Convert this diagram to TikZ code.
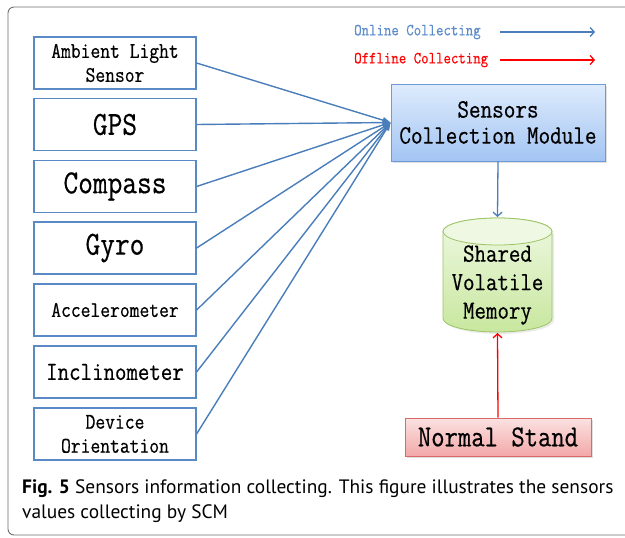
\documentclass[tikz,border=0pt]{standalone}
\usepackage{fontspec}
\setmainfont{PT Sans}
\newfontfamily\boxfont[FakeStretch=0.85,FakeBold=0.5]{Latin Modern Mono}
\usetikzlibrary{arrows.meta,shadows}

\definecolor{lineblue}{HTML}{4A7EBB}
\definecolor{boxblue}{HTML}{5A8AC6}
\definecolor{scmtop}{HTML}{DEEBFC}
\definecolor{scmbot}{HTML}{A3C5F3}
\definecolor{scmedge}{HTML}{6C9BD8}
\definecolor{cylfill}{HTML}{C8E79E}
\definecolor{cyltop}{HTML}{EEF8E2}
\definecolor{cyledge}{HTML}{9CC464}
\definecolor{standtop}{HTML}{FBE2E2}
\definecolor{standbot}{HTML}{F3A8A8}
\definecolor{standedge}{HTML}{D86B69}
\definecolor{legendblue}{HTML}{5B8BC9}
\definecolor{framegray}{HTML}{6E6E6E}

\begin{document}
\begin{tikzpicture}[x=1pt,y=1pt,
    sensor/.style={draw=boxblue,line width=1.2pt,minimum width=162pt,minimum height=52pt,
      inner sep=0pt,align=center},
    small/.style={font=\boxfont\fontsize{22.4}{24}\selectfont},
    large/.style={font=\boxfont\fontsize{33.6}{36}\selectfont},
    feed/.style={lineblue,line width=1.4pt,-{Triangle[length=8pt,width=6pt]}},
    online/.style={lineblue,line width=1.3pt,-{Straight Barb[length=4pt,width=9pt]}},
    offline/.style={red,line width=1.3pt,-{Straight Barb[length=4pt,width=9pt]}}]
  \useasboundingbox (0,0) rectangle (625,-538);
  \clip (0,0) rectangle (625,-538);
  \draw[framegray,line width=0.9pt,rounded corners=6pt] (8,-7) rectangle (660,-535);

  % sensors
  \node[sensor,small] (ambient) at (115,-63) {Ambient Light\\Sensor};
  \node[sensor,large] (gps) at (115,-124.5) {GPS};
  \node[sensor,large] (compass) at (115,-186.5) {Compass};
  \node[sensor,large] (gyro) at (115,-248) {Gyro};
  \node[sensor,small] (accel) at (115,-310) {Accelerometer};
  \node[sensor,font=\boxfont\fontsize{26.2}{28}\selectfont] (incl) at (115,-372) {Inclinometer};
  \node[sensor,small] (orient) at (115,-434) {Device\\Orientation};

  % collection module
  \node[draw=scmedge,line width=0.9pt,top color=scmtop,bottom color=scmbot,
    drop shadow={opacity=0.25,shadow xshift=1.5pt,shadow yshift=-1.5pt},
    minimum width=214pt,minimum height=77pt,align=center,
    font=\boxfont\fontsize{26.5}{26}\selectfont] (scm) at (498,-122.5)
    {Sensors\\Collection Module};

  % shared memory (cylinder)
  \fill[black,opacity=0.08] (445,-233.5) -- (445,-320.5) arc[start angle=180,end angle=360,x radius=54.5,y radius=13.5]
    -- (554,-233.5) -- cycle;
  \draw[cyledge,line width=0.8pt,top color=cyltop,bottom color=cylfill]
    (443,-231.5) -- (443,-318.5) arc[start angle=180,end angle=360,x radius=54.5,y radius=13.5]
    -- (552,-231.5) arc[start angle=0,end angle=180,x radius=54.5,y radius=13.5] -- cycle;
  \draw[cyledge,line width=0.8pt,fill=cyltop] (497.5,-231.5) ellipse[x radius=54.5,y radius=13.5];
  \node[align=center,font=\boxfont\fontsize{26.2}{28.5}\selectfont] (svm) at (497.5,-285) {Shared\\Volatile\\Memory};
  \coordinate (svmtop) at (497.5,-217);
  \coordinate (svmbot) at (497.5,-333);

  \node[draw=standedge,line width=0.9pt,top color=standtop,bottom color=standbot,
    drop shadow={opacity=0.25,shadow xshift=1.5pt,shadow yshift=-1.5pt},
    minimum width=186pt,minimum height=38pt,inner sep=0pt,
    font=\boxfont\fontsize{30.5}{32}\selectfont] (stand) at (498,-437) {Normal Stand};

  % legend
  \node[anchor=west,text=legendblue,inner sep=0pt,font=\boxfont\fontsize{17}{18}\selectfont] (onl) at (354,-32) {Online Collecting};
  \node[anchor=west,text=red,inner sep=0pt,font=\boxfont\fontsize{17}{18}\selectfont] (offl) at (354,-60) {Offline Collecting};
  \coordinate (on1) at (500,-32);
  \coordinate (on2) at (595,-32);
  \coordinate (off1) at (500,-60);
  \coordinate (off2) at (595,-60);
  \draw[online] (on1) -- (on2);
  \draw[offline] (off1) -- (off2);

  % connectors
  \foreach \s in {ambient,gps,compass,gyro,accel,incl,orient}
    \draw[feed] (\s.east) -- (scm.west);
  \draw[online] (scm.south) -- (svmtop);
  \draw[offline] (stand.north) -- (svmbot);

  % caption
  \node[anchor=base west,inner sep=0pt,font=\fontsize{19.4}{22}\selectfont] (cap1) at (22,-493)
    {\textbf{Fig. 5} Sensors information collecting. This figure illustrates the sensors};
  \node[anchor=base west,inner sep=0pt,font=\fontsize{19.4}{22}\selectfont] (cap2) at (22,-518)
    {values collecting by SCM};
\end{tikzpicture}
\end{document}
